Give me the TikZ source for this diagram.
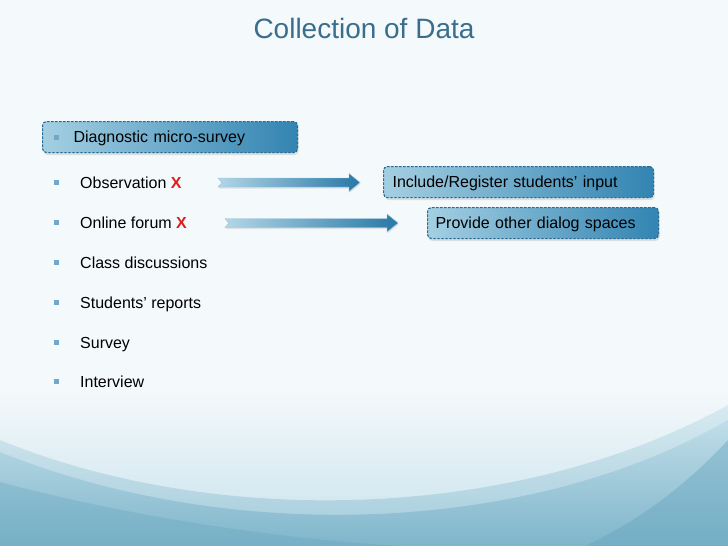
\documentclass[tikz,border=0pt]{standalone}
\usepackage{fontspec}
\setmainfont{Liberation Sans}
\usepackage{tikz}
\usetikzlibrary{calc}
\usetikzlibrary{shadows}
\definecolor{bgtop}{RGB}{244, 249, 251}
\definecolor{bgmid}{RGB}{200, 226, 236}
\definecolor{wavetop}{RGB}{186, 219, 231}
\definecolor{wavebot}{RGB}{116, 175, 198}
\definecolor{wavedark}{RGB}{98, 162, 189}
\definecolor{titleblue}{RGB}{58, 110, 140}
\definecolor{bulletblue}{RGB}{112, 168, 200}
\definecolor{boxlight}{RGB}{164, 207, 226}
\definecolor{boxdark}{RGB}{50, 132, 178}
\definecolor{boxedge}{RGB}{40, 104, 146}
\definecolor{arrowlight}{RGB}{178, 214, 231}
\definecolor{arrowdark}{RGB}{40, 120, 166}
\definecolor{xred}{RGB}{226, 28, 28}
\tikzset{
	itemtext/.style={anchor=base west, inner sep=0pt, font=\fontsize{16}{19}\selectfont},
	bulletsq/.style={rectangle, fill=bulletblue, inner sep=0pt, minimum size=5pt},
	databox/.style={rectangle, rounded corners=4pt, draw=boxedge, line width=1.1pt,
		dash pattern=on 2.4pt off 1.6pt, left color=boxlight, right color=boxdark,
		preaction={draw=white!40!boxlight, solid, line width=1.1pt},
		drop shadow={opacity=0.22, shadow xshift=1pt, shadow yshift=-2.5pt},
		anchor=north west, minimum height=31pt, inner ysep=0pt, align=left,
		text height=11.5pt, text depth=0pt, font=\fontsize{16}{19}\selectfont}
}
\newcommand{\fatarrow}[2]{% {tail}{tip}
	\shade[left color=arrowlight, right color=arrowdark, draw=white!55!arrowdark, line width=0.4pt,
		drop shadow={opacity=0.18, shadow xshift=0.5pt, shadow yshift=-1.5pt}]
	let \p1=(#1), \p2=(#2) in
	(\x1,\y1+4.5pt) -- (\x2-11pt,\y1+4.5pt) -- (\x2-11pt,\y1+9pt) -- (\x2,\y1) % head
	-- (\x2-11pt,\y1-9pt) -- (\x2-11pt,\y1-4.5pt) -- (\x1,\y1-4.5pt) -- (\x1+4pt,\y1) -- cycle; % notched tail
}

\begin{document}
\begin{tikzpicture}[x=1pt, y=-1pt]
	\useasboundingbox (0,0) rectangle (728,546);
	% background
	\fill[bgtop] (0,0) rectangle (728,546);
	\shade[top color=bgtop, bottom color=bgmid] (0,390) rectangle (728,546);
	\shade[top color=wavetop, bottom color=wavebot, opacity=0.45]
		(0,440) .. controls (220,530) and (520,520) .. (728,405) -- (728,546) -- (0,546) -- cycle;
	\shade[top color=wavetop, bottom color=wavebot, opacity=0.75]
		(0,452) .. controls (230,545) and (530,535) .. (728,420) -- (728,546) -- (0,546) -- cycle;
	\fill[wavedark, opacity=0.3]
		(0,482) .. controls (150,522) and (300,540) .. (400,546) -- (0,546) -- cycle;
	\fill[wavedark, opacity=0.4]
		(728,440) .. controls (680,492) and (630,525) .. (585,546) -- (728,546) -- cycle;

	% title
	\node[text=titleblue, font=\fontsize{28}{32}\selectfont] (title) at (364,28) {Collection of Data};

	% boxes
	\node[databox, minimum width=255pt, text width=255pt, inner xsep=0pt] (diag) at (42,121) {\hspace*{31pt}Diagnostic micro-survey};
	\node[bulletsq] (diagb) at (56,137) {};
	\node[databox, minimum width=270pt, text width=254pt, inner xsep=8pt] (incl) at (383,166) {\hspace*{1pt}Include/Register students' input};
	\node[databox, minimum width=231pt, text width=215pt, inner xsep=8pt] (prov) at (427,207) {Provide other dialog spaces};

	% list
	\node[bulletsq] (b1) at (56,182) {};
	\node[itemtext] (obs) at (80,188) {Observation \textcolor{xred}{\textbf{X}}};
	\node[bulletsq] (b2) at (56,222) {};
	\node[itemtext] (forum) at (80,228) {Online forum \textcolor{xred}{\textbf{X}}};
	\node[bulletsq] (b3) at (56,262) {};
	\node[itemtext] (class) at (80,268) {Class discussions};
	\node[bulletsq] (b4) at (56,302) {};
	\node[itemtext] (reports) at (80,308) {Students' reports};
	\node[bulletsq] (b5) at (56,342) {};
	\node[itemtext] (survey) at (80,348) {Survey};
	\node[bulletsq] (b6) at (56,381) {};
	\node[itemtext] (interview) at (80,387) {Interview};

	% arrows
	\coordinate (obsTail) at (218,182.5);
	\coordinate (obsTip) at (360,182.5);
	\coordinate (forumTail) at (225,223);
	\coordinate (forumTip) at (398,223);
	\fatarrow{obsTail}{obsTip};
	\fatarrow{forumTail}{forumTip};
\end{tikzpicture}
\end{document}
